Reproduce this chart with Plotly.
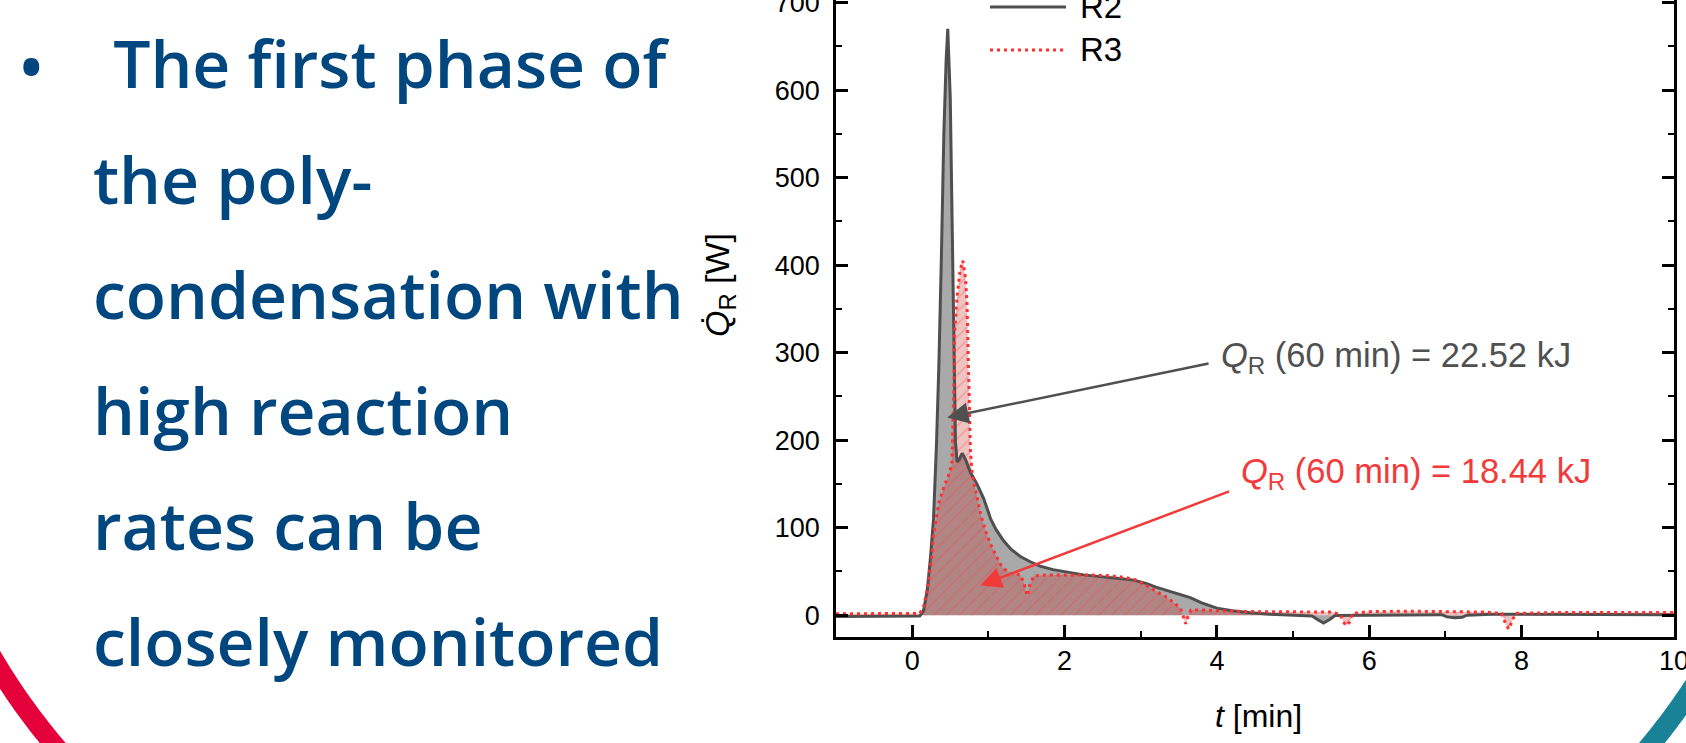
import numpy as np
import plotly.graph_objects as go

# ---------------- data ----------------
t_r2 = [-1.0, 0.0, 0.10, 0.15, 0.20, 0.24, 0.28, 0.32, 0.35, 0.385, 0.415, 0.446, 0.467,
        0.50, 0.525, 0.546, 0.568, 0.59, 0.62, 0.656, 0.70, 0.765, 0.85, 0.94, 1.03, 1.10,
        1.20, 1.30, 1.42, 1.55, 1.68, 1.85, 2.03, 2.25, 2.47, 2.70, 2.91, 3.08, 3.20, 3.35,
        3.50, 3.65, 3.80, 4.00, 4.20, 4.44, 4.70, 5.10, 5.25, 5.32, 5.40, 5.48, 5.55, 6.0,
        6.5, 6.95, 7.02, 7.12, 7.22, 7.28, 7.6, 8.0, 8.6, 9.0, 10.0]
q_r2 = [-1.5, -1.5, -1.0, 5, 30, 66, 110, 198, 285, 416, 548, 635, 670,
        591, 460, 329, 198, 175, 178, 185, 178, 163, 150, 133, 110, 98,
        85, 75, 67, 61, 56, 52, 49, 46, 44, 42, 40, 36, 32, 28,
        24, 20, 14, 8, 5, 2.6, 1, 0, -1, -5, -9, -5, -0.5, 0,
        0.5, 0.5, -2, -3, -2.5, 0, 1, 1, 0.5, 0.5, 0.5]

t_r3 = [-1.0, 0.0, 0.10, 0.15, 0.20, 0.25, 0.28, 0.35, 0.41, 0.47, 0.52, 0.545, 0.555,
        0.59, 0.63, 0.665, 0.70, 0.72, 0.743, 0.765, 0.79, 0.85, 0.90, 0.96, 1.03, 1.10,
        1.16, 1.22, 1.29, 1.42, 1.47, 1.51, 1.55, 1.60, 1.80, 2.0, 2.3, 2.6, 2.8, 2.95,
        3.05, 3.13, 3.25, 3.35, 3.45, 3.52, 3.56, 3.59, 3.62, 3.66, 3.80, 4.0, 4.5, 5.0,
        5.5, 5.62, 5.66, 5.70, 5.74, 5.78, 6.0, 6.5, 7.0, 7.5, 7.74, 7.79, 7.83, 7.87,
        7.92, 8.5, 9.0, 10.0]
q_r3 = [1.5, 1.5, 2, 10, 30, 62, 92, 128, 145, 158, 172, 250, 320,
        365, 395, 405, 385, 355, 264, 187, 160, 135, 115, 97, 81, 68,
        58, 52, 48, 46, 36, 22, 36, 45, 46, 46, 46, 45, 43, 40,
        35, 31, 25, 20, 13, 8, -2, -10, -2, 6, 6, 5, 4, 3.5,
        3.5, 1, -8, -12, -8, 2, 4, 4.5, 4, 3.5, 2, -10, -16, -8,
        2, 3, 3, 3]

series_names = ["R2", "R3"]
energy_kj = ["22.52", "18.44"]
x_ticks = [0, 2, 4, 6, 8, 10]
y_ticks = [0, 100, 200, 300, 400, 500, 600, 700]
x_range = [-1, 10]
y_range = [-25, 703]
bullet_lines = [" The first phase of", "the poly-", "condensation with",
                "high reaction", "rates can be", "closely monitored"]

# ---------------- layout helpers ----------------
W, H = 1686, 743
ML, MR, MT, MB = 836, 12, 0, 106
PW = W - ML - MR
PH = H - MT - MB


def pxx(x):
    return (x - ML) / PW


def pxy(y):
    return (H - MB - y) / PH


GRAY_LINE = "#4f4f4f"
RED = "#f23a3a"
BLUE = "#00467f"
AX_FONT = "Liberation Sans, Arial, sans-serif"

fig = go.Figure()

# fills
fig.add_trace(go.Scatter(x=t_r2, y=q_r2, mode="lines", line=dict(width=0, color="rgba(0,0,0,0)"),
                         fill="tozeroy", fillcolor="#a9a9a9", showlegend=False, hoverinfo="skip"))
fig.add_trace(go.Scatter(x=t_r3, y=q_r3, mode="lines", line=dict(width=0, color="rgba(0,0,0,0)"),
                         fill="tozeroy", fillcolor="rgba(200,40,40,0.28)",
                         fillpattern=dict(shape="/", bgcolor="rgba(200,40,40,0.28)",
                                          fgcolor="rgba(240,70,70,0.45)", size=9, solidity=0.12,
                                          fillmode="replace"),
                         showlegend=False, hoverinfo="skip"))
# lines
fig.add_trace(go.Scatter(x=t_r2, y=q_r2, mode="lines", name=series_names[0],
                         line=dict(color=GRAY_LINE, width=3), showlegend=False))
fig.add_trace(go.Scatter(x=t_r3, y=q_r3, mode="lines", name=series_names[1],
                         line=dict(color="#ff3030", width=3, dash="3px,4px"), showlegend=False))

axis_common = dict(showgrid=False, zeroline=False, showline=True, linecolor="black", linewidth=2.5,
                   ticks="inside", ticklen=12, tickwidth=2.5, tickcolor="black",
                   ticklabeloverflow="allow", automargin=False,
                   tickfont=dict(family=AX_FONT, size=27, color="black"))

fig.update_layout(
    width=W, height=H, margin=dict(l=ML, r=MR, t=MT, b=MB, autoexpand=False),
    paper_bgcolor="white", plot_bgcolor="white", showlegend=False,
    xaxis=dict(range=x_range, tickvals=x_ticks, ticktext=[str(v) for v in x_ticks],
               minor=dict(dtick=1, tick0=0, ticks="inside", ticklen=6, tickwidth=2, tickcolor="black"),
               ticklabelstandoff=-2, **axis_common),
    yaxis=dict(range=y_range, tickvals=y_ticks, ticktext=[str(v) for v in y_ticks], mirror="ticks",
               minor=dict(dtick=50, tick0=0, ticks="inside", ticklen=6, tickwidth=2, tickcolor="black"),
               ticklabelstandoff=8, **axis_common),
)

ann = []
# axis titles
ann.append(dict(text="<i>t</i> [min]", xref="paper", yref="paper", x=pxx(1258), y=pxy(716),
                showarrow=False, xanchor="center", yanchor="middle",
                font=dict(family=AX_FONT, size=32, color="black")))
ann.append(dict(text="<i>Q\u0307</i><sub>R</sub> [W]", xref="paper", yref="paper", x=pxx(719), y=pxy(285),
                showarrow=False, xanchor="center", yanchor="middle", textangle=-90,
                font=dict(family=AX_FONT, size=34, color="black")))

# energy annotations + arrows
ann.append(dict(text="<i>Q</i><sub>R</sub> (60 min) = %s kJ" % energy_kj[0], x=4.03, y=294, xref="x", yref="y",
                showarrow=False, xanchor="left", yanchor="middle",
                font=dict(family=AX_FONT, size=34.5, color="#505050")))
ann.append(dict(text="<i>Q</i><sub>R</sub> (60 min) = %s kJ" % energy_kj[1], x=4.29, y=162, xref="x", yref="y",
                showarrow=False, xanchor="left", yanchor="middle",
                font=dict(family=AX_FONT, size=34.5, color=RED)))
ann.append(dict(text="", x=0.46, y=226, ax=3.91, ay=288, xref="x", yref="y", axref="x", ayref="y",
                showarrow=True, arrowhead=2, arrowsize=1.7, arrowwidth=2.5, arrowcolor="#505050", standoff=0))
ann.append(dict(text="", x=0.895, y=34, ax=4.18, ay=142, xref="x", yref="y", axref="x", ayref="y",
                showarrow=True, arrowhead=2, arrowsize=1.7, arrowwidth=2.5, arrowcolor=RED, standoff=0))

# legend texts
ann.append(dict(text=series_names[0], xref="paper", yref="paper", x=pxx(1078), y=pxy(7), showarrow=False,
                xanchor="left", yanchor="middle", font=dict(family=AX_FONT, size=33, color="black")))
ann.append(dict(text=series_names[1], xref="paper", yref="paper", x=pxx(1078), y=pxy(50), showarrow=False,
                xanchor="left", yanchor="middle", font=dict(family=AX_FONT, size=33, color="black")))

# slide text
line_centers = [62, 178, 293, 409, 524, 640]
for i, (txt, yc) in enumerate(zip(bullet_lines, line_centers)):
    ann.append(dict(text=txt, xref="paper", yref="paper", x=pxx(91 if i else 94), y=pxy(yc),
                    showarrow=False, xanchor="left", yanchor="middle",
                    font=dict(family="Open Sans, sans-serif", size=66, color=BLUE, weight=600)))
ann.append(dict(text="\u2022", xref="paper", yref="paper", x=pxx(31), y=pxy(65), showarrow=False,
                xanchor="center", yanchor="middle",
                font=dict(family="Open Sans, sans-serif", size=76, color=BLUE)))

fig.update_layout(annotations=ann)

shapes = []
# legend samples
shapes.append(dict(type="line", xref="paper", yref="paper", x0=pxx(990), x1=pxx(1066), y0=pxy(7), y1=pxy(7),
                   line=dict(color=GRAY_LINE, width=3)))
shapes.append(dict(type="line", xref="paper", yref="paper", x0=pxx(990), x1=pxx(1066), y0=pxy(50), y1=pxy(50),
                   line=dict(color="#ff3030", width=3, dash="3px,4px")))


# decorative slide arcs
def arc_path(cx, cy, r, a0, a1, n=40):
    ang = np.radians(np.linspace(a0, a1, n))
    xs = cx + r * np.cos(ang)
    ys = cy + r * np.sin(ang)
    pts = ["%s%.5f,%.5f" % ("M" if k == 0 else "L", pxx(x), pxy(y)) for k, (x, y) in enumerate(zip(xs, ys))]
    return " ".join(pts)


shapes.append(dict(type="path", xref="paper", yref="paper", path=arc_path(552, 327, 650, 152, 134),
                   line=dict(color="#e4003a", width=20), layer="above"))
shapes.append(dict(type="path", xref="paper", yref="paper", path=arc_path(1150, 330, 650, 32, 45),
                   line=dict(color="#1a8296", width=20), layer="above"))
fig.update_layout(shapes=shapes)

fig.write_html("out.html")
